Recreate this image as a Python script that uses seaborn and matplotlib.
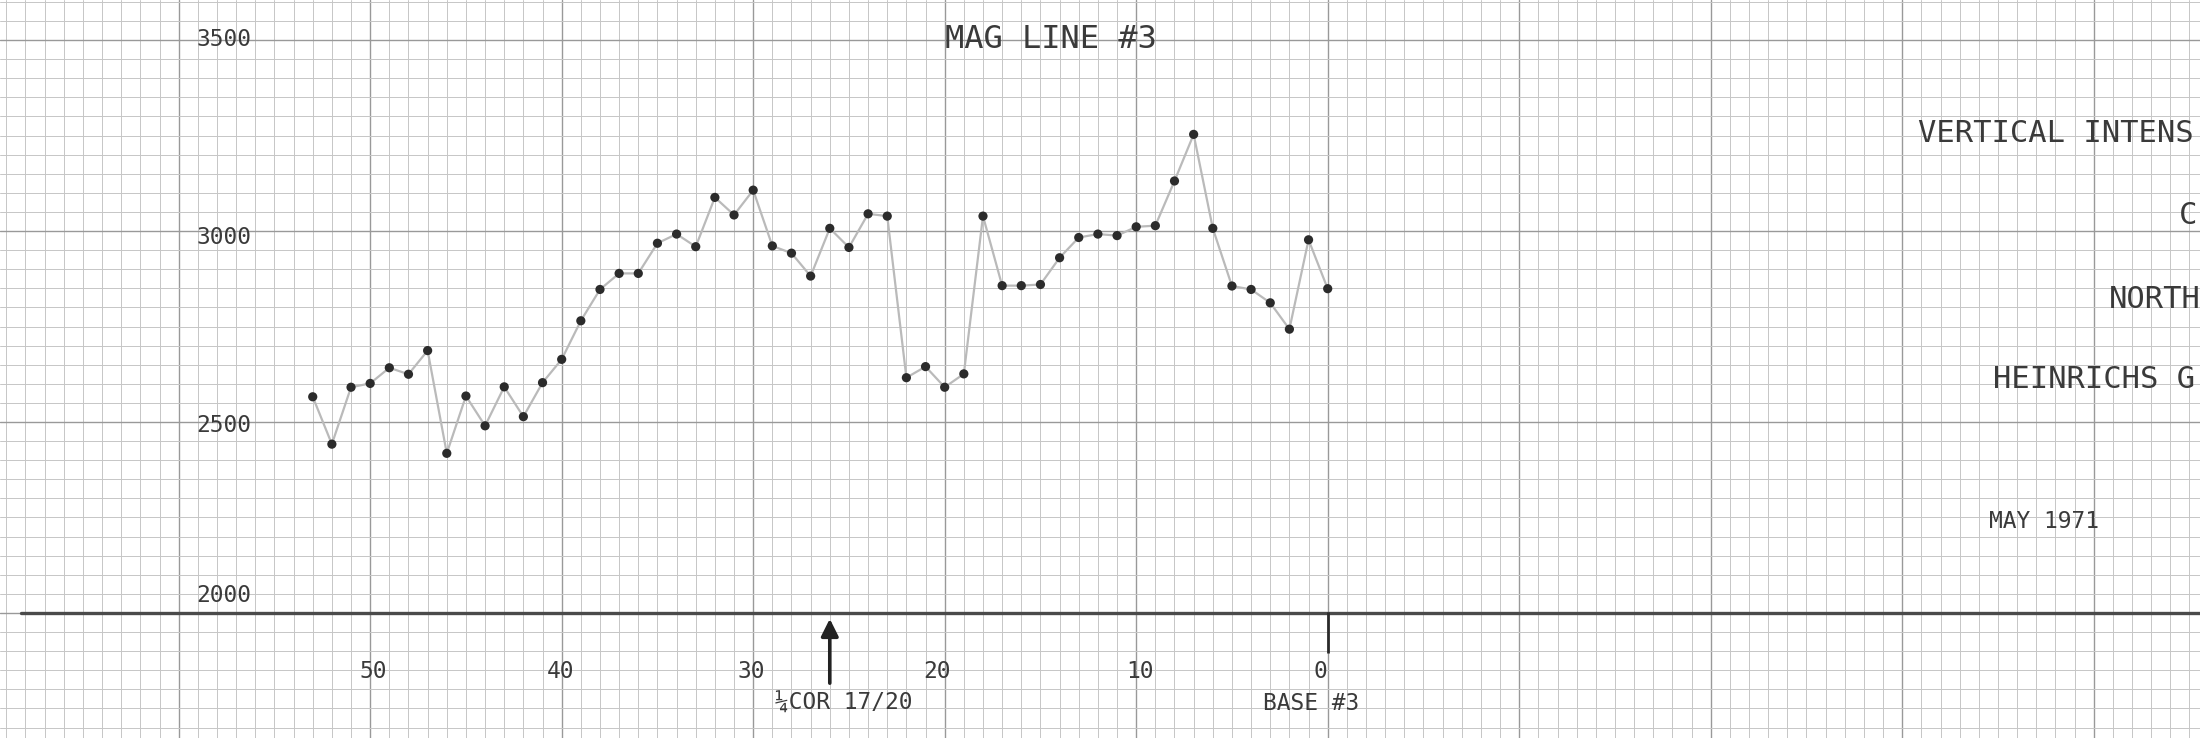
"""Mag line #3 - vertical intensity profile on graph paper"""

import matplotlib.pyplot as plt
from matplotlib.ticker import MultipleLocator
import pandas as pd
import seaborn as sns

# station number along the line (0 = base #3) and vertical intensity readings
stations = list(range(53, -1, -1))
intensity = [2566, 2442, 2591, 2601, 2642, 2625, 2687, 2418, 2568, 2490,
             2592, 2514, 2603, 2664, 2765, 2847, 2889, 2889, 2968, 2992,
             2959, 3088, 3042, 3107, 2961, 2942, 2882, 3007, 2957, 3045,
             3039, 2616, 2645, 2591, 2626, 3039, 2857, 2857, 2860, 2930,
             2983, 2992, 2988, 3011, 3014, 3131, 3253, 3007, 2856, 2847,
             2812, 2743, 2977, 2849]
y_labels = ["3500", "3000", "2500", "2000"]
x_labels = ["50", "40", "30", "20", "10", "0"]
cor_station = 26
base_station = 0

df = pd.DataFrame({"station": stations, "intensity": intensity})

sns.set_style("white")
plt.rcParams["font.family"] = ["DejaVu Sans Mono", "DejaVu Sans"]

W, H = 2200, 738
fig = plt.figure(figsize=(22, 7.38), dpi=100, facecolor="white")
ax = fig.add_axes([0, 0, 1, 1])
ax.set_facecolor("white")

# graph paper: 1 station per small square, 50 units per small square
ax.set_xlim(69.33, -45.55)
ax.set_ylim(1672.7, 3604.8)
ax.xaxis.set_major_locator(MultipleLocator(10))
ax.xaxis.set_minor_locator(MultipleLocator(1))
ax.yaxis.set_major_locator(MultipleLocator(500))
ax.yaxis.set_minor_locator(MultipleLocator(50))
ax.grid(which="minor", color="#c6c6c6", lw=0.7)
ax.grid(which="major", color="#999999", lw=1.0)
ax.tick_params(which="both", length=0, labelbottom=False, labelleft=False)
for s in ax.spines.values():
    s.set_visible(False)

# base line
ax.axhline(2000, xmin=21 / W, color="#4a4a4a", lw=2.4, zorder=3)
ax.vlines(base_station, 1895, 2003, color="#2a2a2a", lw=2.0, zorder=3)
ax.annotate("", xy=(cor_station, 1992), xytext=(cor_station, 1809),
            arrowprops=dict(arrowstyle="-|>", lw=2.6, color="#222222", mutation_scale=26),
            zorder=4)

sns.lineplot(data=df, x="station", y="intensity", ax=ax, color="#bababa", lw=1.6,
             sort=False, zorder=4)
sns.scatterplot(data=df, x="station", y="intensity", ax=ax, color="#2b2b2b", s=44,
                edgecolor="none", zorder=5)
ax.set_xlabel("")
ax.set_ylabel("")

tc = "#3a3a3a"


def put(txt, x, y, size, ha="center"):
    fig.text(x / W, 1 - y / H, txt, fontsize=size, color=tc, ha=ha, va="center")


put("MAG LINE #3", 1051, 39, 23)
for lab, yy in zip(y_labels, [39, 237, 425, 595]):
    put(lab, 224, yy, 16.5)
for lab, xx in zip(x_labels, [373, 561, 751, 937, 1140, 1320]):
    put(lab, xx, 672, 16.5)
put("¼COR 17/20", 844, 703, 16.5)
put("BASE #3", 1311, 703, 16.5)

put("VERTICAL INTENS", 1918, 134, 22, ha="left")
put("C", 2197, 216, 22, ha="right")
put("NORTH", 2109, 300, 22, ha="left")
put("HEINRICHS G", 1993, 380, 22, ha="left")
put("MAY 1971", 1989, 522, 16.5, ha="left")

plt.savefig("out.png", dpi=100, facecolor=fig.get_facecolor())
